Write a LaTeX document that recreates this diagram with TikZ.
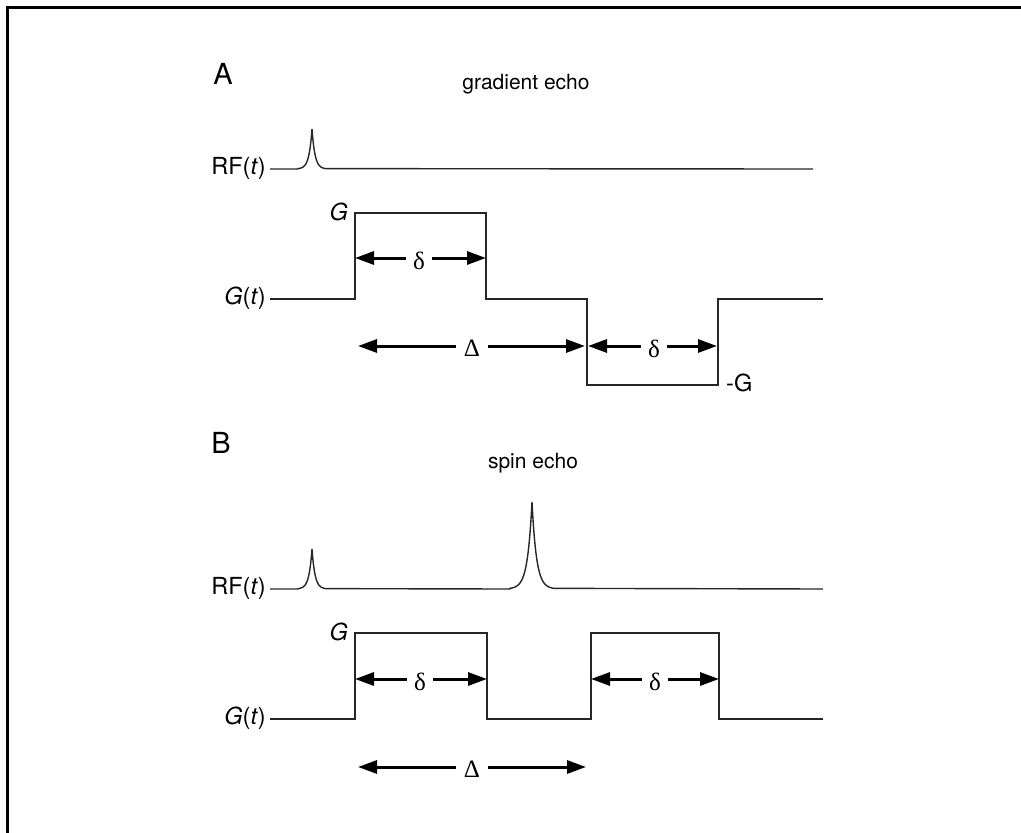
\documentclass[tikz,border=0pt]{standalone}
\usepackage{fontspec}
\setmainfont{TeX Gyre Heros}
\newfontfamily\greekserif{Liberation Serif}
\usetikzlibrary{arrows.meta}
\tikzset{
  wave/.style={line width=1.4pt, black!85},
  dimarrow/.style={line width=3pt, -{Triangle[length=19pt,width=13pt]}},
  lbl/.style={inner sep=0pt, font=\fontsize{23.5}{27}\selectfont},
  panel/.style={inner sep=0pt, font=\fontsize{29}{32}\selectfont},
  title/.style={inner sep=0pt, font=\fontsize{21}{25}\selectfont},
  smalld/.style={inner xsep=7pt, inner ysep=0pt, font=\greekserif\fontsize{25}{28}\selectfont},
  bigd/.style={inner xsep=8pt, inner ysep=0pt, font=\greekserif\fontsize{25}{28}\selectfont},
}
\begin{document}
\begin{tikzpicture}[x=1pt,y=-1pt]
\useasboundingbox (0,0) rectangle (1021,833);
% frame
\draw[line width=3pt] (7.5,833) -- (7.5,7) -- (1021,7);

% ---------- Panel A ----------
\node[panel] (pA) at (223,74) {A};
\node[title] (tA) at (526,84) {gradient echo};

\node[lbl, anchor=east] (rfA) at (266,168) {RF(\textit{t})};
\draw[wave] (270,169) -- (298,169)
  -- plot[domain=-14:14, samples=113] ({312+\x}, {169-40*exp(-abs(\x)/3)})
  -- (813,169);

\node[lbl, anchor=east] (gtA) at (266,298) {\textit{G}(\textit{t})};
\coordinate (a0) at (270,299);
\coordinate (a1) at (355,299);
\coordinate (a2) at (355,213);
\coordinate (a3) at (486,213);
\coordinate (a4) at (486,299);
\coordinate (a5) at (587,299);
\coordinate (a6) at (587,385);
\coordinate (a7) at (718,385);
\coordinate (a8) at (718,299);
\coordinate (a9) at (823,299);
\draw[wave] (a0) -- (a1) -- (a2) -- (a3) -- (a4) -- (a5) -- (a6) -- (a7) -- (a8) -- (a9);

\node[lbl, anchor=east] (GA) at (348,212) {\textit{G}};
\node[lbl, anchor=west] (mGA) at (726,383) {-G};

\coordinate (dA1l) at (355,258);  \coordinate (dA1r) at (486,258);
\node[smalld] (dA1) at (419,261) {δ};
\draw[dimarrow] (dA1.west |- dA1l) -- (dA1l);
\draw[dimarrow] (dA1.east |- dA1r) -- (dA1r);

\coordinate (DAl) at (358,346);  \coordinate (DAr) at (585,346);
\node[bigd] (DA) at (472,348) {Δ};
\draw[dimarrow] (DA.west |- DAl) -- (DAl);
\draw[dimarrow] (DA.east |- DAr) -- (DAr);

\coordinate (dA2l) at (588,346);  \coordinate (dA2r) at (717,346);
\node[smalld] (dA2) at (654,349) {δ};
\draw[dimarrow] (dA2.west |- dA2l) -- (dA2l);
\draw[dimarrow] (dA2.east |- dA2r) -- (dA2r);

% ---------- Panel B ----------
\node[panel] (pB) at (221,443) {B};
\node[title] (tB) at (533,463) {spin echo};

\node[lbl, anchor=east] (rfB) at (266,588) {RF(\textit{t})};
\draw[wave] (270,589) -- (298,589)
  -- plot[domain=-14:14, samples=113] ({312+\x}, {589-40*exp(-abs(\x)/3)})
  -- (510,589)
  -- plot[domain=-22:22, samples=177] ({532+\x}, {589-87*exp(-abs(\x)/4.5)})
  -- (823,589);

\node[lbl, anchor=east] (gtB) at (266,718) {\textit{G}(\textit{t})};
\coordinate (b0) at (270,719);
\coordinate (b1) at (355,719);
\coordinate (b2) at (355,633);
\coordinate (b3) at (487,633);
\coordinate (b4) at (487,719);
\coordinate (b5) at (591,719);
\coordinate (b6) at (591,633);
\coordinate (b7) at (719,633);
\coordinate (b8) at (719,719);
\coordinate (b9) at (823,719);
\draw[wave] (b0) -- (b1) -- (b2) -- (b3) -- (b4) -- (b5) -- (b6) -- (b7) -- (b8) -- (b9);

\node[lbl, anchor=east] (GB) at (348,632) {\textit{G}};

\coordinate (dB1l) at (355,679);  \coordinate (dB1r) at (487,679);
\node[smalld] (dB1) at (420,682) {δ};
\draw[dimarrow] (dB1.west |- dB1l) -- (dB1l);
\draw[dimarrow] (dB1.east |- dB1r) -- (dB1r);

\coordinate (dB2l) at (591,679);  \coordinate (dB2r) at (719,679);
\node[smalld] (dB2) at (655,682) {δ};
\draw[dimarrow] (dB2.west |- dB2l) -- (dB2l);
\draw[dimarrow] (dB2.east |- dB2r) -- (dB2r);

\coordinate (DBl) at (358,767);  \coordinate (DBr) at (586,767);
\node[bigd] (DB) at (472,769) {Δ};
\draw[dimarrow] (DB.west |- DBl) -- (DBl);
\draw[dimarrow] (DB.east |- DBr) -- (DBr);
\end{tikzpicture}
\end{document}
